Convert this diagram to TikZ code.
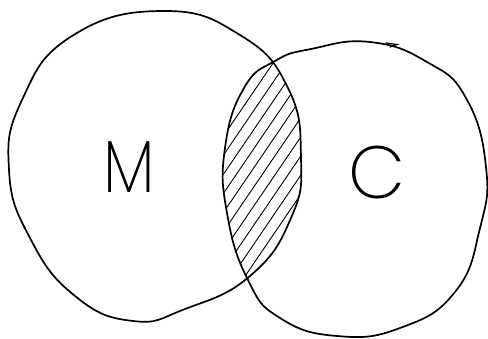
\documentclass[tikz,border=0pt]{standalone}
\usepackage{fontspec}
\newfontfamily\thinfont{Poppins ExtraLight}
\begin{document}
\begin{tikzpicture}[x=1pt,y=1pt,
  ink/.style={line width=1.7pt, black, line join=round, line cap=round},
  hatchline/.style={line width=0.9pt, black},
  letter/.style={font=\thinfont\fontsize{74}{74}\selectfont, inner sep=0pt}]
\useasboundingbox (0,0) rectangle (488,338);
\fill[white] (0,0) rectangle (488,338);
\def\leftcircle{plot[smooth cycle, tension=0.8] coordinates {(163,327) (240,303) (288,250) (301,180) (291,120) (250,62) (185,29) (133,17) (75,42) (30,100) (9,168) (22,238) (72,302)}}
\def\rightcircle{plot[smooth cycle, tension=0.8] coordinates {(311,289) (370,296) (427,276) (466,240) (486,171) (480,110) (455,46) (400,10) (337,2) (280,20) (248,58) (227,125) (225,190) (244,250) (275,277)}}
\begin{scope}
  \clip \leftcircle;
  \clip \rightcircle;
  \foreach \a in {-200,-187,...,400} \draw[hatchline] (\a,0) -- (\a+230,338);
\end{scope}
\draw[ink] \leftcircle;
\draw[ink] \rightcircle;
\draw[line width=1.2pt, line cap=round] (386,295) -- (397,293.5) -- (390,291);
\node[letter, xscale=0.85] (M) at (129,171) {M};
\node[letter] (C) at (377,165) {C};
\end{tikzpicture}
\end{document}
